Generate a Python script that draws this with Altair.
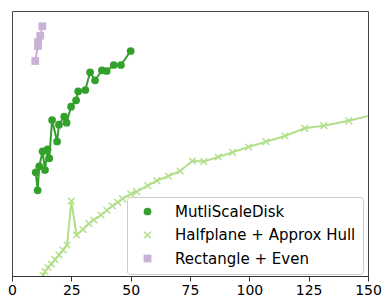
import altair as alt
import pandas as pd

series_names = ["MutliScaleDisk", "Halfplane + Approx Hull", "Rectangle + Even"]
series_colors = ["#33a02c", "#b2df8a", "#cab2d6"]

msd_x = [10.0, 10.8, 11.5, 12.9, 13.9, 15.0, 15.7, 16.9, 19.0, 19.8, 22.0, 23.0,
         24.9, 27.0, 27.9, 30.9, 32.9, 35.0, 37.9, 39.9, 42.9, 45.9, 50.0]
msd_y = [103.7, 85.7, 109.7, 124.7, 106.0, 126.7, 117.7, 156.0, 134.5, 151.3, 159.5, 153.3,
         169.3, 175.7, 184.7, 186.0, 203.7, 195.7, 205.7, 205.0, 211.0, 211.0, 225.0]

hp_x = [13.1, 13.9, 15.2, 16.6, 18.1, 19.8, 21.5, 23.2, 25.0, 27.2, 29.9, 32.4,
        34.5, 37.5, 40.0, 42.3, 44.5, 46.6, 50.1, 52.5, 57.2, 61.0, 65.9, 70.8,
        76.0, 80.8, 86.9, 92.9, 99.7, 107.0, 115.0, 123.3, 131.4, 141.9, 159.3]
hp_y = [0.5, 4.5, 8.5, 12.0, 16.5, 21.0, 26.0, 31.0, 75.0, 41.0, 46.5, 52.5,
        56.0, 61.0, 65.7, 70.0, 73.7, 77.2, 82.0, 84.3, 90.3, 95.3, 100.0, 105.0,
        115.0, 114.5, 119.0, 123.7, 129.0, 134.3, 140.0, 147.7, 150.3, 155.2, 165.5]

rect_x = [9.8, 10.9, 11.0, 11.9, 12.8]
rect_y = [215.0, 230.0, 234.0, 240.3, 249.7]

xticks = [0, 25, 50, 75, 100, 125, 150]

rows = []
for name, xs, ys in [(series_names[0], msd_x, msd_y),
                     (series_names[1], hp_x, hp_y),
                     (series_names[2], rect_x, rect_y)]:
    for i, (a, b) in enumerate(zip(xs, ys)):
        rows.append({"series": name, "x": a, "y": b, "i": i})
df = pd.DataFrame(rows)

k = 0.27
xpath = (f"M{-1+k},-1L0,{-k}L{1-k},-1L1,{-1+k}L{k},0L1,{1-k}L{1-k},1L0,{k}"
         f"L{-1+k},1L-1,{1-k}L{-k},0L-1,{-1+k}Z")

color_scale = alt.Scale(domain=series_names, range=series_colors)
shape_scale = alt.Scale(domain=series_names, range=["circle", xpath, "square"])

legend = alt.Legend(
    title=None, orient="none", legendX=115, legendY=186, padding=7, symbolOffset=6,
    labelOffset=20, labelFontSize=15, labelFont="DejaVu Sans", labelColor="black",
    rowPadding=7.5, strokeColor="#cccccc", fillColor="white", cornerRadius=3,
    symbolSize=60, symbolStrokeWidth=0, labelLimit=400,
)

xenc = alt.X("x:Q", scale=alt.Scale(domain=[0, 150], nice=False, zero=False),
             axis=alt.Axis(values=xticks, title=None, grid=False, labelFontSize=14,
                           labelFont="DejaVu Sans", labelColor="black", tickSize=5,
                           tickColor="#333", domainColor="#333", labelPadding=2,
                           labelFlush=False))
yenc = alt.Y("y:Q", scale=alt.Scale(domain=[0, 265], nice=False, zero=False), axis=None)

base = alt.Chart(df)
line_layers = []
for name, col in zip(series_names, series_colors):
    line_layers.append(
        base.transform_filter(alt.datum.series == name)
        .mark_line(strokeWidth=2, clip=True, color=col)
        .encode(x=xenc, y=yenc, order=alt.Order("i:Q"))
    )
points = base.mark_point(filled=True, size=60, opacity=1, clip=True).encode(
    x=xenc, y=yenc,
    color=alt.Color("series:N", scale=color_scale, legend=legend),
    shape=alt.Shape("series:N", scale=shape_scale, legend=legend),
)

chart = alt.layer(*line_layers, points).properties(
    width=356, height=265,
    autosize=alt.AutoSizeParams(type="none"),
    padding={"left": 4, "top": 3, "right": 14, "bottom": 21},
).configure_view(
    stroke="#444", strokeWidth=1
)

chart.save("out.html", embed_options={"renderer": "svg", "actions": False})
